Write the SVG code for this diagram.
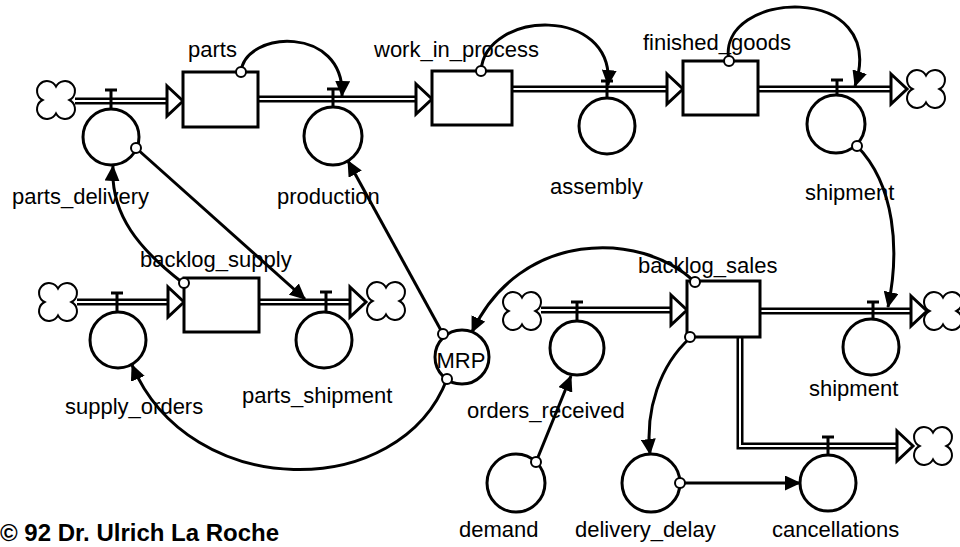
<svg xmlns="http://www.w3.org/2000/svg" xmlns:xlink="http://www.w3.org/1999/xlink" width="960" height="547" viewBox="0 0 960 547">
<style>
.pipe-o{fill:none;stroke:#000;stroke-width:7;stroke-linejoin:miter}
.pipe-i{fill:none;stroke:#fff;stroke-width:2;stroke-linejoin:miter}
.stock{fill:#fff;stroke:#000;stroke-width:3}
.conv{fill:#fff;stroke:#000;stroke-width:3}
.valve{fill:none;stroke:#000;stroke-width:3}
.link{fill:none;stroke:#000;stroke-width:3;marker-end:url(#ah)}
.port{fill:#fff;stroke:#000;stroke-width:2}
text{font-family:"Liberation Sans",Arial,Helvetica,sans-serif;font-size:22px;fill:#000}
.copy{font-weight:bold;font-size:24px}
.mrp{font-size:22px;text-anchor:middle}
</style>
<defs>
<marker id="ah" markerUnits="userSpaceOnUse" markerWidth="17" markerHeight="15" refX="15" refY="7.5" orient="auto"><path d="M0,0 L16,7.5 L0,15 z" fill="#000"/></marker>
<path id="cloud" d="M0,-13.4 A10,10 0 1 1 13.4,0 A10,10 0 1 1 0,13.4 A10,10 0 1 1 -13.4,0 A10,10 0 1 1 0,-13.4 Z" fill="#fff" stroke="#000" stroke-width="2"/>
<path id="phead" d="M-16,-15 L0,0 L-16,15 Z" fill="#fff" stroke="#000" stroke-width="3" stroke-linejoin="miter"/>
</defs>
<rect width="960" height="547" fill="#fff"/>

<g id="connectors">
  <g id="pipes">
    <path class="pipe-o" d="M75,101 H168 M258,99 H417 M512,89 H668 M758,89 H892 M77,302 H169 M259,302 H351 M541,310 H672 M760,311 H912 M740,337 V446 H898"/>
    <path class="pipe-i" d="M75,101 H168 M258,99 H417 M512,89 H668 M758,89 H892 M77,302 H169 M259,302 H351 M541,310 H672 M760,311 H912 M740,337 V446 H898"/>
    <use xlink:href="#phead" x="183" y="101"/>
    <use xlink:href="#phead" x="432" y="99"/>
    <use xlink:href="#phead" x="683" y="89"/>
    <use xlink:href="#phead" x="907" y="89"/>
    <use xlink:href="#phead" x="184" y="302"/>
    <use xlink:href="#phead" x="366" y="302"/>
    <use xlink:href="#phead" x="687" y="310"/>
    <use xlink:href="#phead" x="927" y="311"/>
    <use xlink:href="#phead" x="913" y="446"/>
  </g>
  <g id="links">
    <path class="link" d="M241,72 C245,30 345,25 342,96"/>
    <path class="link" d="M481,71 C485,10 615,5 608,85"/>
    <path class="link" d="M729,61 C715,-10 890,-20 855,86"/>
    <path class="link" d="M857,146 C895,185 900,250 888,307"/>
    <path class="link" d="M136,148 L305,299"/>
    <path class="link" d="M183,283 C140,250 110,215 113,166"/>
    <path class="link" d="M443,334 L348,161"/>
    <path class="link" d="M447,379 C400,502 190,502 132,365"/>
    <path class="link" d="M695,282 C640,230 520,230 472,332"/>
    <path class="link" d="M690,338 C660,365 645,410 650,454"/>
    <path class="link" d="M536,462 L571,376"/>
    <path class="link" d="M680,483 L800,483"/>
  </g>
</g>

<g id="cloud-parts-in"><use xlink:href="#cloud" x="56" y="100"/></g>
<g id="cloud-shipment-out"><use xlink:href="#cloud" x="926" y="89"/></g>
<g id="cloud-supply-in"><use xlink:href="#cloud" x="58" y="302"/></g>
<g id="cloud-partsship-out"><use xlink:href="#cloud" x="386" y="301"/></g>
<g id="cloud-orders-in"><use xlink:href="#cloud" x="522" y="311"/></g>
<g id="cloud-shipment2-out"><use xlink:href="#cloud" x="943" y="311"/></g>
<g id="cloud-cancel-out"><use xlink:href="#cloud" x="933" y="446"/></g>

<g id="parts">
  <rect class="stock" x="183" y="72" width="75" height="55"/>
  <circle class="port" cx="241" cy="72" r="5"/>
  <text x="188" y="57">parts</text>
</g>
<g id="work_in_process">
  <rect class="stock" x="432" y="71" width="80" height="54"/>
  <circle class="port" cx="481" cy="71" r="5"/>
  <text x="374" y="57">work_in_process</text>
</g>
<g id="finished_goods">
  <rect class="stock" x="683" y="61" width="75" height="54"/>
  <circle class="port" cx="729" cy="61" r="5"/>
  <text x="643" y="50">finished_goods</text>
</g>
<g id="backlog_supply">
  <rect class="stock" x="184" y="278" width="75" height="54"/>
  <circle class="port" cx="184" cy="283" r="5"/>
  <text x="140" y="267">backlog_supply</text>
</g>
<g id="backlog_sales">
  <rect class="stock" x="687" y="281" width="73" height="56"/>
  <circle class="port" cx="695" cy="282" r="5"/>
  <circle class="port" cx="690" cy="337" r="5"/>
  <text x="638" y="273">backlog_sales</text>
</g>

<g id="parts_delivery">
  <path class="valve" d="M105,90 H117 M111,90 V109"/>
  <circle class="conv" cx="111" cy="137" r="28"/>
  <circle class="port" cx="136" cy="148" r="5"/>
  <text x="12" y="204">parts_delivery</text>
</g>
<g id="production">
  <path class="valve" d="M327,89 H339 M333,89 V107"/>
  <circle class="conv" cx="333" cy="136" r="29"/>
  <text x="277" y="204">production</text>
</g>
<g id="assembly">
  <path class="valve" d="M601,81 H613 M607,81 V98"/>
  <circle class="conv" cx="607" cy="126" r="28"/>
  <text x="550" y="194">assembly</text>
</g>
<g id="shipment_top">
  <path class="valve" d="M831,80 H843 M837,80 V95"/>
  <circle class="conv" cx="836" cy="124" r="29"/>
  <circle class="port" cx="857" cy="146" r="5"/>
  <text x="805" y="200">shipment</text>
</g>
<g id="supply_orders">
  <path class="valve" d="M111,293 H123 M117,293 V312"/>
  <circle class="conv" cx="118" cy="340" r="28"/>
  <text x="65" y="414">supply_orders</text>
</g>
<g id="parts_shipment">
  <path class="valve" d="M320,292 H332 M326,292 V312"/>
  <circle class="conv" cx="324" cy="340" r="28"/>
  <text x="242" y="403">parts_shipment</text>
</g>
<g id="MRP">
  <circle class="conv" cx="462" cy="357" r="27"/>
  <circle class="port" cx="443" cy="334" r="5"/>
  <circle class="port" cx="447" cy="379" r="5"/>
  <text class="mrp" x="461" y="368">MRP</text>
</g>
<g id="orders_received">
  <path class="valve" d="M571,302 H583 M577,302 V321"/>
  <circle class="conv" cx="577" cy="348" r="27"/>
  <text x="467" y="418">orders_received</text>
</g>
<g id="shipment_bottom">
  <path class="valve" d="M867,302 H879 M873,302 V319"/>
  <circle class="conv" cx="871" cy="347" r="28"/>
  <text x="809" y="396">shipment</text>
</g>
<g id="demand">
  <circle class="conv" cx="516" cy="483" r="29"/>
  <circle class="port" cx="536" cy="462" r="5"/>
  <text x="459" y="537">demand</text>
</g>
<g id="delivery_delay">
  <circle class="conv" cx="651" cy="483" r="29"/>
  <circle class="port" cx="680" cy="483" r="5"/>
  <text x="575" y="537">delivery_delay</text>
</g>
<g id="cancellations">
  <path class="valve" d="M822,437 H834 M828,437 V455"/>
  <circle class="conv" cx="828" cy="483" r="28"/>
  <text x="772" y="537">cancellations</text>
</g>

<g id="copyright">
  <text class="copy" x="0" y="541">© 92 Dr. Ulrich La Roche</text>
</g>
</svg>
